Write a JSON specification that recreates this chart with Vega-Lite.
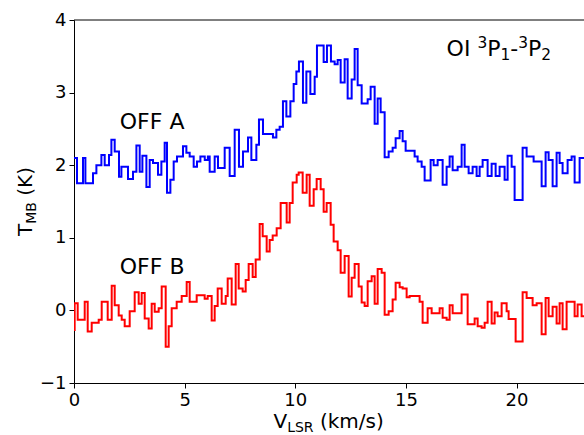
{
  "$schema": "https://vega.github.io/schema/vega-lite/v6.json",
  "width": 510,
  "height": 363,
  "autosize": {"type": "none"},
  "padding": {"left": 74, "top": 20, "right": 0, "bottom": 52},
  "background": "white",
  "config": {
    "view": {"stroke": null},
    "font": "DejaVu Sans",
    "axis": {"grid": false, "domainColor": "black", "domainWidth": 1, "tickColor": "black", "tickWidth": 1, "tickSize": 5, "labelColor": "black", "labelFont": "DejaVu Sans", "labelFontSize": 18, "labelPadding": 3, "labelFlush": false, "labelOverlap": false, "title": null},
    "text": {"font": "DejaVu Sans", "color": "black"}
  },
  "datasets": {
    "offA": [
      {"v":0,"T":2.10},{"v":0.136,"T":1.75},{"v":0.407,"T":2.10},{"v":0.515,"T":1.75},{"v":0.859,"T":1.89},{"v":1.012,"T":2.00},{"v":1.238,"T":2.14},{"v":1.387,"T":2.00},{"v":1.582,"T":2.14},{"v":1.690,"T":2.35},{"v":1.839,"T":2.19},{"v":2.033,"T":1.84},{"v":2.142,"T":1.98},{"v":2.440,"T":1.81},{"v":2.666,"T":1.91},{"v":2.820,"T":2.27},{"v":2.969,"T":1.91},{"v":3.091,"T":2.13},{"v":3.272,"T":1.70},{"v":3.421,"T":2.07},{"v":3.570,"T":2.03},{"v":3.796,"T":1.87},{"v":3.949,"T":2.05},{"v":4.098,"T":2.31},{"v":4.203,"T":1.62},{"v":4.356,"T":1.80},{"v":4.505,"T":2.05},{"v":4.654,"T":2.12},{"v":4.925,"T":2.26},{"v":5.079,"T":2.17},{"v":5.228,"T":2.12},{"v":5.409,"T":1.98},{"v":5.558,"T":2.05},{"v":5.712,"T":2.12},{"v":5.91,"T":2.07},{"v":6.05,"T":2.12},{"v":6.132,"T":1.91},{"v":6.358,"T":2.12},{"v":6.507,"T":1.96},{"v":6.810,"T":2.24},{"v":7.036,"T":1.85},{"v":7.262,"T":2.49},{"v":7.456,"T":1.98},{"v":7.637,"T":2.19},{"v":7.863,"T":2.38},{"v":8.016,"T":2.07},{"v":8.242,"T":2.28},{"v":8.360,"T":2.63},{"v":8.541,"T":2.43},{"v":8.992,"T":2.38},{"v":9.146,"T":2.49},{"v":9.295,"T":2.53},{"v":9.444,"T":2.88},{"v":9.598,"T":2.67},{"v":9.779,"T":2.88},{"v":9.928,"T":3.12},{"v":10.050,"T":3.29},{"v":10.167,"T":3.43},{"v":10.348,"T":2.86},{"v":10.502,"T":3.29},{"v":10.682,"T":2.98},{"v":10.877,"T":3.22},{"v":10.981,"T":3.65},{"v":11.283,"T":3.42},{"v":11.433,"T":3.65},{"v":11.613,"T":3.43},{"v":11.780,"T":3.39},{"v":11.916,"T":3.45},{"v":12.052,"T":3.14},{"v":12.232,"T":3.46},{"v":12.368,"T":2.92},{"v":12.549,"T":3.18},{"v":12.684,"T":3.60},{"v":12.820,"T":3.10},{"v":13.001,"T":2.85},{"v":13.272,"T":2.91},{"v":13.407,"T":3.08},{"v":13.588,"T":2.57},{"v":13.724,"T":2.92},{"v":13.859,"T":2.73},{"v":14.040,"T":2.11},{"v":14.221,"T":2.19},{"v":14.401,"T":2.24},{"v":14.537,"T":2.37},{"v":14.718,"T":2.47},{"v":14.853,"T":2.33},{"v":14.989,"T":2.20},{"v":15.395,"T":2.12},{"v":15.531,"T":2.05},{"v":15.712,"T":1.98},{"v":15.847,"T":1.79},{"v":16.118,"T":2.07},{"v":16.254,"T":2.00},{"v":16.435,"T":2.07},{"v":16.661,"T":1.73},{"v":16.841,"T":1.98},{"v":16.977,"T":2.12},{"v":17.113,"T":1.93},{"v":17.339,"T":1.98},{"v":17.519,"T":2.28},{"v":17.655,"T":1.98},{"v":17.836,"T":1.89},{"v":18.016,"T":1.98},{"v":18.197,"T":1.85},{"v":18.333,"T":1.98},{"v":18.468,"T":2.07},{"v":18.694,"T":1.85},{"v":18.875,"T":2.02},{"v":19.056,"T":1.85},{"v":19.236,"T":1.98},{"v":19.462,"T":1.80},{"v":19.598,"T":2.13},{"v":19.779,"T":1.98},{"v":19.914,"T":1.52},{"v":20.276,"T":2.24},{"v":20.457,"T":2.12},{"v":20.773,"T":2.05},{"v":21.135,"T":1.71},{"v":21.315,"T":2.18},{"v":21.451,"T":2.07},{"v":21.632,"T":1.71},{"v":21.812,"T":2.17},{"v":21.948,"T":2.03},{"v":22.083,"T":1.89},{"v":22.309,"T":2.07},{"v":22.490,"T":2.12},{"v":22.626,"T":1.76},{"v":22.852,"T":2.10},{"v":23.1,"T":2.10}
    ],
    "offB": [
      {"v":0,"T":-0.27},{"v":0.03,"T":0.10},{"v":0.167,"T":-0.13},{"v":0.484,"T":0.12},{"v":0.619,"T":-0.29},{"v":0.800,"T":-0.17},{"v":1.116,"T":-0.13},{"v":1.252,"T":0.12},{"v":1.523,"T":-0.13},{"v":1.704,"T":0.34},{"v":1.839,"T":0.07},{"v":2.020,"T":-0.07},{"v":2.156,"T":-0.13},{"v":2.291,"T":-0.22},{"v":2.517,"T":-0.01},{"v":2.743,"T":0.25},{"v":2.923,"T":0.09},{"v":3.059,"T":0.24},{"v":3.195,"T":-0.11},{"v":3.375,"T":-0.25},{"v":3.511,"T":0.09},{"v":3.647,"T":-0.02},{"v":3.827,"T":0.03},{"v":3.963,"T":0.33},{"v":4.144,"T":-0.50},{"v":4.279,"T":-0.22},{"v":4.415,"T":0.03},{"v":4.641,"T":0.12},{"v":4.867,"T":0.20},{"v":5.093,"T":0.39},{"v":5.228,"T":0.12},{"v":5.545,"T":0.21},{"v":5.906,"T":0.16},{"v":6.042,"T":0.20},{"v":6.222,"T":-0.14},{"v":6.358,"T":0.06},{"v":6.494,"T":0.30},{"v":6.674,"T":0.09},{"v":6.855,"T":0.20},{"v":6.946,"T":0.44},{"v":7.126,"T":0.08},{"v":7.307,"T":0.64},{"v":7.443,"T":0.30},{"v":7.623,"T":0.26},{"v":7.759,"T":0.42},{"v":7.894,"T":0.64},{"v":8.075,"T":0.46},{"v":8.211,"T":0.70},{"v":8.392,"T":1.19},{"v":8.527,"T":1.02},{"v":8.708,"T":0.81},{"v":8.843,"T":0.97},{"v":8.979,"T":1.03},{"v":9.160,"T":1.13},{"v":9.340,"T":1.48},{"v":9.612,"T":1.21},{"v":9.747,"T":1.48},{"v":9.883,"T":1.76},{"v":10.064,"T":1.87},{"v":10.154,"T":1.90},{"v":10.335,"T":1.62},{"v":10.515,"T":1.87},{"v":10.651,"T":1.44},{"v":10.832,"T":1.67},{"v":10.967,"T":1.81},{"v":11.148,"T":1.67},{"v":11.283,"T":1.36},{"v":11.419,"T":1.48},{"v":11.600,"T":1.18},{"v":11.735,"T":0.95},{"v":11.916,"T":0.83},{"v":12.052,"T":0.52},{"v":12.232,"T":0.75},{"v":12.413,"T":0.19},{"v":12.549,"T":0.45},{"v":12.684,"T":0.64},{"v":12.865,"T":0.33},{"v":13.001,"T":0.11},{"v":13.136,"T":0.06},{"v":13.272,"T":0.40},{"v":13.453,"T":0.47},{"v":13.588,"T":0.09},{"v":13.724,"T":0.57},{"v":13.904,"T":0.52},{"v":14.040,"T":-0.06},{"v":14.221,"T":-0.01},{"v":14.401,"T":0.15},{"v":14.537,"T":0.38},{"v":14.718,"T":0.32},{"v":14.853,"T":0.30},{"v":15.034,"T":0.18},{"v":15.169,"T":0.20},{"v":15.621,"T":0.12},{"v":15.757,"T":-0.17},{"v":15.983,"T":0.03},{"v":16.164,"T":-0.04},{"v":16.525,"T":0.03},{"v":16.661,"T":-0.10},{"v":16.841,"T":-0.13},{"v":16.977,"T":0.07},{"v":17.113,"T":-0.04},{"v":17.519,"T":0.22},{"v":17.791,"T":-0.19},{"v":18.107,"T":-0.11},{"v":18.243,"T":-0.22},{"v":18.423,"T":-0.24},{"v":18.559,"T":-0.17},{"v":18.694,"T":0.12},{"v":18.875,"T":-0.18},{"v":19.011,"T":-0.03},{"v":19.146,"T":-0.08},{"v":19.327,"T":0.10},{"v":19.553,"T":-0.01},{"v":19.643,"T":-0.12},{"v":19.960,"T":-0.43},{"v":20.276,"T":0.25},{"v":20.457,"T":0.17},{"v":20.728,"T":0.07},{"v":20.909,"T":0.10},{"v":21.135,"T":-0.33},{"v":21.315,"T":0.17},{"v":21.451,"T":-0.08},{"v":21.632,"T":0.05},{"v":21.812,"T":-0.18},{"v":21.948,"T":0.10},{"v":22.083,"T":-0.26},{"v":22.264,"T":0.12},{"v":22.626,"T":-0.08},{"v":22.761,"T":0.08},{"v":22.942,"T":-0.08},{"v":23.1,"T":-0.08}
    ]
  },
  "layer": [
    {
      "data": {"name": "offA"},
      "mark": {"type": "line", "interpolate": "step-after", "color": "#0000ff", "strokeWidth": 2, "clip": true},
      "encoding": {
        "x": {"field": "v", "type": "quantitative", "scale": {"domain": [0, 23.05], "nice": false, "zero": false}, "axis": {"values": [0, 5, 10, 15, 20], "format": "d"}},
        "y": {"field": "T", "type": "quantitative", "scale": {"domain": [-1, 4], "nice": false, "zero": false}, "axis": {"values": [-1, 0, 1, 2, 3, 4], "format": "d"}}
      }
    },
    {
      "data": {"name": "offB"},
      "mark": {"type": "line", "interpolate": "step-after", "color": "#ff0000", "strokeWidth": 2, "clip": true},
      "encoding": {
        "x": {"field": "v", "type": "quantitative", "axis": {"values": [0, 5, 10, 15, 20], "format": "d"}},
        "y": {"field": "T", "type": "quantitative", "axis": {"values": [-1, 0, 1, 2, 3, 4], "format": "d"}}
      }
    },
    {
      "data": {"values": [{}]},
      "mark": {"type": "rule", "color": "black", "strokeWidth": 1},
      "encoding": {"y": {"datum": 4, "axis": {"values": [-1, 0, 1, 2, 3, 4], "format": "d"}}}
    },
    {
      "data": {"values": [{"t": "OFF A"}]},
      "mark": {"type": "text", "align": "left", "baseline": "alphabetic", "fontSize": 22},
      "encoding": {"x": {"datum": 2.07, "axis": {"values": [0, 5, 10, 15, 20], "format": "d"}}, "y": {"datum": 2.5, "axis": {"values": [-1, 0, 1, 2, 3, 4], "format": "d"}}, "text": {"field": "t"}}
    },
    {
      "data": {"values": [{"t": "OFF B"}]},
      "mark": {"type": "text", "align": "left", "baseline": "alphabetic", "fontSize": 22},
      "encoding": {"x": {"datum": 2.07, "axis": {"values": [0, 5, 10, 15, 20], "format": "d"}}, "y": {"datum": 0.5, "axis": {"values": [-1, 0, 1, 2, 3, 4], "format": "d"}}, "text": {"field": "t"}}
    },
    {
      "data": {"values": [{"t": "OI"}]},
      "mark": {"type": "text", "align": "left", "baseline": "alphabetic", "fontSize": 22},
      "encoding": {"x": {"datum": 16.84, "axis": {"values": [0, 5, 10, 15, 20], "format": "d"}}, "y": {"datum": 3.5, "axis": {"values": [-1, 0, 1, 2, 3, 4], "format": "d"}}, "text": {"field": "t"}}
    },
    {
      "data": {"values": [{"t": "3"}]},
      "mark": {"type": "text", "align": "left", "baseline": "alphabetic", "fontSize": 15.4, "dx": 30.8, "dy": -8},
      "encoding": {"x": {"datum": 16.84, "axis": {"values": [0, 5, 10, 15, 20], "format": "d"}}, "y": {"datum": 3.5, "axis": {"values": [-1, 0, 1, 2, 3, 4], "format": "d"}}, "text": {"field": "t"}}
    },
    {
      "data": {"values": [{"t": "P"}]},
      "mark": {"type": "text", "align": "left", "baseline": "alphabetic", "fontSize": 22, "dx": 40.6},
      "encoding": {"x": {"datum": 16.84, "axis": {"values": [0, 5, 10, 15, 20], "format": "d"}}, "y": {"datum": 3.5, "axis": {"values": [-1, 0, 1, 2, 3, 4], "format": "d"}}, "text": {"field": "t"}}
    },
    {
      "data": {"values": [{"t": "1"}]},
      "mark": {"type": "text", "align": "left", "baseline": "alphabetic", "fontSize": 15.4, "dx": 53.9, "dy": 4},
      "encoding": {"x": {"datum": 16.84, "axis": {"values": [0, 5, 10, 15, 20], "format": "d"}}, "y": {"datum": 3.5, "axis": {"values": [-1, 0, 1, 2, 3, 4], "format": "d"}}, "text": {"field": "t"}}
    },
    {
      "data": {"values": [{"t": "-"}]},
      "mark": {"type": "text", "align": "left", "baseline": "alphabetic", "fontSize": 22, "dx": 63.7},
      "encoding": {"x": {"datum": 16.84, "axis": {"values": [0, 5, 10, 15, 20], "format": "d"}}, "y": {"datum": 3.5, "axis": {"values": [-1, 0, 1, 2, 3, 4], "format": "d"}}, "text": {"field": "t"}}
    },
    {
      "data": {"values": [{"t": "3"}]},
      "mark": {"type": "text", "align": "left", "baseline": "alphabetic", "fontSize": 15.4, "dx": 71.6, "dy": -8},
      "encoding": {"x": {"datum": 16.84, "axis": {"values": [0, 5, 10, 15, 20], "format": "d"}}, "y": {"datum": 3.5, "axis": {"values": [-1, 0, 1, 2, 3, 4], "format": "d"}}, "text": {"field": "t"}}
    },
    {
      "data": {"values": [{"t": "P"}]},
      "mark": {"type": "text", "align": "left", "baseline": "alphabetic", "fontSize": 22, "dx": 81.4},
      "encoding": {"x": {"datum": 16.84, "axis": {"values": [0, 5, 10, 15, 20], "format": "d"}}, "y": {"datum": 3.5, "axis": {"values": [-1, 0, 1, 2, 3, 4], "format": "d"}}, "text": {"field": "t"}}
    },
    {
      "data": {"values": [{"t": "2"}]},
      "mark": {"type": "text", "align": "left", "baseline": "alphabetic", "fontSize": 15.4, "dx": 94.7, "dy": 4},
      "encoding": {"x": {"datum": 16.84, "axis": {"values": [0, 5, 10, 15, 20], "format": "d"}}, "y": {"datum": 3.5, "axis": {"values": [-1, 0, 1, 2, 3, 4], "format": "d"}}, "text": {"field": "t"}}
    },
    {
      "data": {"values": [{"t": "V"}]},
      "mark": {"type": "text", "align": "left", "baseline": "alphabetic", "fontSize": 20, "dx": -55, "dy": 45},
      "encoding": {"x": {"datum": 11.5, "axis": {"values": [0, 5, 10, 15, 20], "format": "d"}}, "y": {"datum": -1, "axis": {"values": [-1, 0, 1, 2, 3, 4], "format": "d"}}, "text": {"field": "t"}}
    },
    {
      "data": {"values": [{"t": "LSR"}]},
      "mark": {"type": "text", "align": "left", "baseline": "alphabetic", "fontSize": 14, "dx": -41.3, "dy": 49},
      "encoding": {"x": {"datum": 11.5, "axis": {"values": [0, 5, 10, 15, 20], "format": "d"}}, "y": {"datum": -1, "axis": {"values": [-1, 0, 1, 2, 3, 4], "format": "d"}}, "text": {"field": "t"}}
    },
    {
      "data": {"values": [{"t": "(km/s)"}]},
      "mark": {"type": "text", "align": "left", "baseline": "alphabetic", "fontSize": 20, "dx": -8.5, "dy": 45},
      "encoding": {"x": {"datum": 11.5, "axis": {"values": [0, 5, 10, 15, 20], "format": "d"}}, "y": {"datum": -1, "axis": {"values": [-1, 0, 1, 2, 3, 4], "format": "d"}}, "text": {"field": "t"}}
    },
    {
      "data": {"values": [{"t": "T"}]},
      "mark": {"type": "text", "align": "left", "baseline": "alphabetic", "fontSize": 20, "angle": 270, "dx": -34.5, "dy": -42},
      "encoding": {"x": {"datum": 0, "axis": {"values": [0, 5, 10, 15, 20], "format": "d"}}, "y": {"datum": 1.5, "axis": {"values": [-1, 0, 1, 2, 3, 4], "format": "d"}}, "text": {"field": "t"}}
    },
    {
      "data": {"values": [{"t": "MB"}]},
      "mark": {"type": "text", "align": "left", "baseline": "alphabetic", "fontSize": 14, "angle": 270, "dx": -22.3, "dy": -38},
      "encoding": {"x": {"datum": 0, "axis": {"values": [0, 5, 10, 15, 20], "format": "d"}}, "y": {"datum": 1.5, "axis": {"values": [-1, 0, 1, 2, 3, 4], "format": "d"}}, "text": {"field": "t"}}
    },
    {
      "data": {"values": [{"t": "(K)"}]},
      "mark": {"type": "text", "align": "left", "baseline": "alphabetic", "fontSize": 20, "angle": 270, "dx": 5.8, "dy": -42},
      "encoding": {"x": {"datum": 0, "axis": {"values": [0, 5, 10, 15, 20], "format": "d"}}, "y": {"datum": 1.5, "axis": {"values": [-1, 0, 1, 2, 3, 4], "format": "d"}}, "text": {"field": "t"}}
    }
  ]
}
